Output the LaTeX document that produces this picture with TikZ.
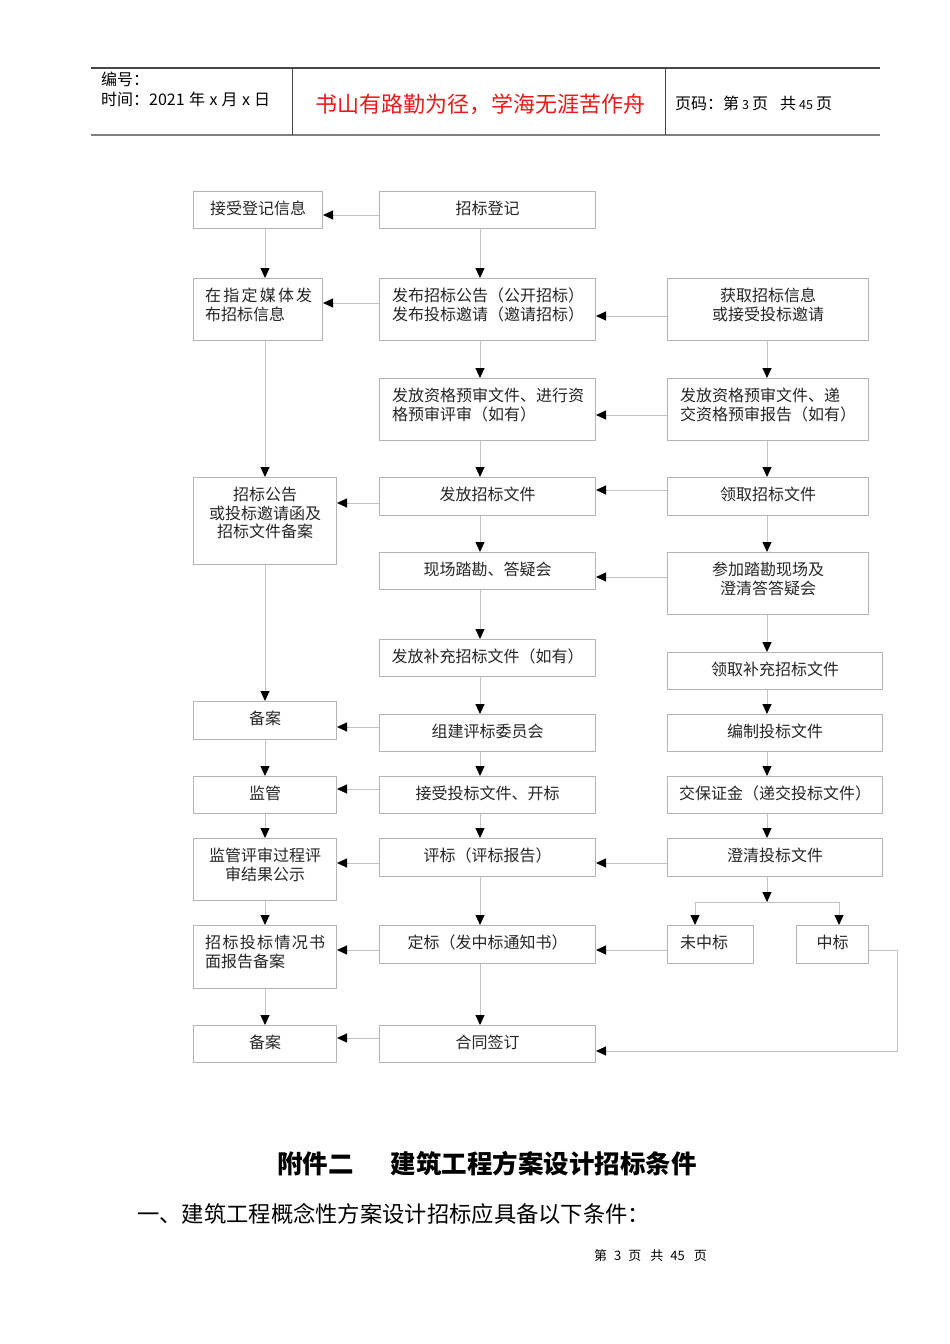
\documentclass[tikz,border=0pt]{standalone}
\usepackage{fontspec}
\setmainfont{Noto Sans CJK SC}
\usetikzlibrary{arrows.meta}
\definecolor{boxline}{RGB}{180,180,180}
\definecolor{conline}{RGB}{195,195,195}
\definecolor{hdrred}{RGB}{235,25,25}
\definecolor{hdrline}{RGB}{70,70,70}
\tikzset{
  box/.style={draw=boxline, line width=1pt, rectangle, inner sep=0pt},
  txt/.style={inner sep=0pt, font=\fontsize{16}{18.5}\selectfont, align=center, text=black!85},
  txtl/.style={inner sep=0pt, font=\fontsize{16}{18.5}\selectfont, align=left, text=black!85},
  arr/.style={draw=conline, line width=1pt, -{Triangle[length=10pt,width=9pt,color=black]}},
  con/.style={draw=conline, line width=1pt},
  hdr/.style={inner sep=0pt, font=\fontsize{16}{18}\selectfont, anchor=west, text=black},
}
% centred text box: name, x1, y1, x2, y2, text
\newcommand\bx[6]{%
  \node[box, anchor=north west, minimum width={(#4-#2)*1pt}, minimum height={(#5-#3)*1pt}] (#1) at (#2,#3) {};
  \node[txt, anchor=north] (#1t) at ([yshift=-10pt]#1.north) {#6};}
% left-aligned text box: name, x1, y1, x2, y2, left padding, text
\newcommand\bxl[7]{%
  \node[box, anchor=north west, minimum width={(#4-#2)*1pt}, minimum height={(#5-#3)*1pt}] (#1) at (#2,#3) {};
  \node[txtl, anchor=north west] (#1t) at ([xshift=#6pt,yshift=-10pt]#1.north west) {#7};}
\newcommand\smd[1]{{\fontsize{12.5}{14}\selectfont #1}}
\begin{document}
\begin{tikzpicture}[x=1pt,y=-1pt]
\useasboundingbox[fill=white] (0,0) rectangle (950,1344);

% ---------- header ----------
\draw[hdrline, line width=1.2pt] (91,68) -- (880,68);
\draw[black!50, line width=2pt] (91,135) -- (880,135);
\draw[hdrline, line width=1pt] (292,68) -- (292,135);
\draw[hdrline, line width=1pt] (665,68) -- (665,135);
\node[hdr] (h1) at (101,79) {编号：};
\node[hdr] (h2) at (101,99) {时间：2021\hspace{4.5pt}年\hspace{4.5pt}x\hspace{4pt}月\hspace{4.5pt}x\hspace{4pt}日};
\node[inner sep=0pt, font=\fontsize{22}{26}\selectfont, text=hdrred] (h3) at (480,104) {书山有路勤为径，学海无涯苦作舟};
\node[hdr] (h4) at (675,103) {页码：第\hspace{3pt}\smd{3}\hspace{3pt}页\hspace{12pt}共\hspace{3pt}\smd{45}\hspace{3pt}页};

% ---------- boxes ----------
\bx{jsdj}{193}{191}{322}{228}{接受登记信息}
\bx{zbdj}{379}{191}{595}{228}{招标登记}
\bxl{zdmt}{193}{278}{322}{340}{12}{\makebox[107pt][s]{在\hfil 指\hfil 定\hfil 媒\hfil 体\hfil 发}\\布招标信息}
\bxl{fbgg}{379}{278}{595}{340}{13}{发布招标公告（公开招标）\\发布投标邀请（邀请招标）}
\bx{hqxx}{667}{278}{868}{340}{获取招标信息\\或接受投标邀请}
\bxl{zgM}{379}{378}{595}{440}{13}{发放资格预审文件、进行资\\格预审评审（如有）}
\bxl{zgR}{667}{378}{868}{440}{13}{发放资格预审文件、递\\交资格预审报告（如有）}
\bx{ggba}{193}{477}{336}{564}{招标公告\\或投标邀请函及\\招标文件备案}
\bx{ffwj}{379}{477}{595}{515}{发放招标文件}
\bx{lqwj}{667}{477}{868}{515}{领取招标文件}
\bx{xctk}{379}{552}{595}{589}{现场踏勘、答疑会}
\bx{cjtk}{667}{552}{868}{614}{参加踏勘现场及\\澄清答答疑会}
\bx{bc}{379}{639}{595}{676}{发放补充招标文件（如有）}
\bx{lqbc}{667}{652}{882}{689}{领取补充招标文件}
\bx{baA}{193}{701}{336}{739}{备案}
\bx{zjpb}{379}{714}{595}{751}{组建评标委员会}
\bx{bz}{667}{714}{882}{751}{编制投标文件}
\bx{jg}{193}{776}{336}{813}{监管}
\bx{jstb}{379}{776}{595}{813}{接受投标文件、开标}
\bx{jbz}{667}{776}{882}{813}{交保证金（递交投标文件）}
\bx{jgps}{193}{838}{336}{900}{监管评审过程评\\审结果公示}
\bx{pb}{379}{838}{595}{876}{评标（评标报告）}
\bx{cqwj}{667}{838}{882}{876}{澄清投标文件}
\bxl{qkbg}{193}{925}{336}{988}{12}{\makebox[120pt][s]{招\hfil 标\hfil 投\hfil 标\hfil 情\hfil 况\hfil 书}\\面报告备案}
\bx{db}{379}{925}{595}{963}{定标（发中标通知书）}
\bxl{wzb}{667}{925}{753}{963}{13}{未中标}
\bx{zb}{796}{925}{868}{963}{中标}
\bx{baB}{193}{1025}{336}{1062}{备案}
\bx{htqd}{379}{1025}{595}{1062}{合同签订}

% ---------- column coordinates ----------
\coordinate (cL) at (265,0);
\coordinate (cM) at (480,0);
\coordinate (cR) at (767,0);

% ---------- vertical connectors ----------
\draw[arr] (jsdj.south -| cL) -- (zdmt.north -| cL);
\draw[arr] (zdmt.south -| cL) -- (ggba.north -| cL);
\draw[arr] (ggba.south -| cL) -- (baA.north -| cL);
\draw[arr] (baA.south -| cL) -- (jg.north -| cL);
\draw[arr] (jg.south -| cL) -- (jgps.north -| cL);
\draw[arr] (jgps.south -| cL) -- (qkbg.north -| cL);
\draw[arr] (qkbg.south -| cL) -- (baB.north -| cL);

\draw[arr] (zbdj.south -| cM) -- (fbgg.north -| cM);
\draw[arr] (fbgg.south -| cM) -- (zgM.north -| cM);
\draw[arr] (zgM.south -| cM) -- (ffwj.north -| cM);
\draw[arr] (ffwj.south -| cM) -- (xctk.north -| cM);
\draw[arr] (xctk.south -| cM) -- (bc.north -| cM);
\draw[arr] (bc.south -| cM) -- (zjpb.north -| cM);
\draw[arr] (zjpb.south -| cM) -- (jstb.north -| cM);
\draw[arr] (jstb.south -| cM) -- (pb.north -| cM);
\draw[arr] (pb.south -| cM) -- (db.north -| cM);
\draw[arr] (db.south -| cM) -- (htqd.north -| cM);

\draw[arr] (hqxx.south -| cR) -- (zgR.north -| cR);
\draw[arr] (zgR.south -| cR) -- (lqwj.north -| cR);
\draw[arr] (lqwj.south -| cR) -- (cjtk.north -| cR);
\draw[arr] (cjtk.south -| cR) -- (lqbc.north -| cR);
\draw[arr] (lqbc.south -| cR) -- (bz.north -| cR);
\draw[arr] (bz.south -| cR) -- (jbz.north -| cR);
\draw[arr] (jbz.south -| cR) -- (cqwj.north -| cR);

% split below 澄清投标文件
\coordinate (spl) at (767,902);
\coordinate (spA) at (695,902);
\coordinate (spB) at (839,902);
\draw[con] (cqwj.south -| cR) -- (spl);
\draw[arr] (cqwj.south -| cR) -- ++(0,25);
\draw[con] (spA) -- (spB);
\draw[arr] (spA) -- (wzb.north -| spA);
\draw[arr] (spB) -- (zb.north -| spB);

% ---------- horizontal connectors ----------
\draw[arr] (zbdj.west |- 0,215) -- (jsdj.east |- 0,215);
\draw[arr] (fbgg.west |- 0,303) -- (zdmt.east |- 0,303);
\draw[arr] (hqxx.west |- 0,316) -- (fbgg.east |- 0,316);
\draw[arr] (zgR.west |- 0,415) -- (zgM.east |- 0,415);
\draw[arr] (lqwj.west |- 0,490) -- (ffwj.east |- 0,490);
\draw[arr] (ffwj.west |- 0,503) -- (ggba.east |- 0,503);
\draw[arr] (cjtk.west |- 0,577) -- (xctk.east |- 0,577);
\draw[arr] (zjpb.west |- 0,727) -- (baA.east |- 0,727);
\draw[arr] (jstb.west |- 0,789) -- (jg.east |- 0,789);
\draw[arr] (pb.west |- 0,863) -- (jgps.east |- 0,863);
\draw[arr] (cqwj.west |- 0,863) -- (pb.east |- 0,863);
\draw[arr] (db.west |- 0,950) -- (qkbg.east |- 0,950);
\draw[arr] (wzb.west |- 0,950) -- (db.east |- 0,950);
\draw[arr] (htqd.west |- 0,1038) -- (baB.east |- 0,1038);
\draw[arr] (zb.east |- 0,950) -- (897,950) -- (897,1051) -- (htqd.east |- 0,1051);

% ---------- text below ----------
\node[inner sep=0pt, anchor=west, font=\fontsize{25.5}{30}\selectfont\bfseries] (t1) at (277,1164) {附件二\hspace{37pt}建筑工程方案设计招标条件};
\node[inner sep=0pt, anchor=west, font=\fontsize{22.3}{26}\selectfont] (t2) at (137,1214) {一、建筑工程概念性方案设计招标应具备以下条件：};
\node[inner sep=0pt, anchor=west, font=\fontsize{13}{16}\selectfont] (t3) at (594,1256) {第\hspace{7pt}3\hspace{7pt}页\hspace{9pt}共\hspace{7pt}45\hspace{9pt}页};
\end{tikzpicture}
\end{document}
